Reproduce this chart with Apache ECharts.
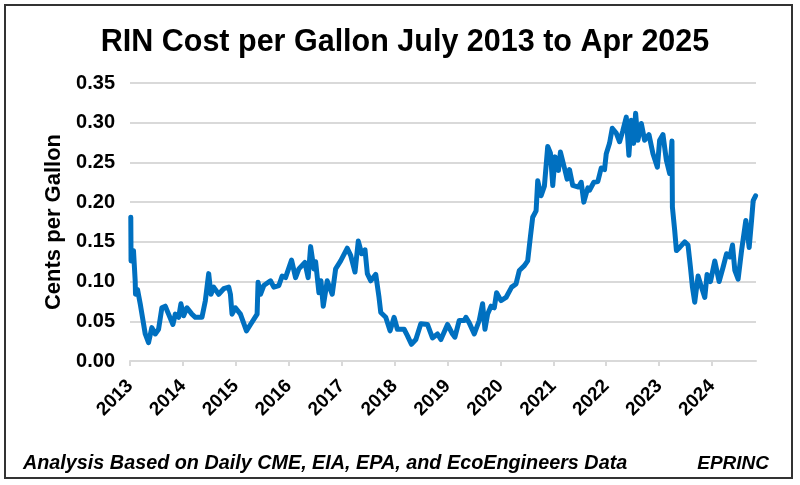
<!DOCTYPE html>
<html>
<head>
<meta charset="utf-8">
<script src="https://cdn.jsdelivr.net/npm/echarts@6/dist/echarts.min.js"></script>
<style>
html,body{margin:0;padding:0;background:#fff;}
#chart{width:800px;height:485px;}
</style>
</head>
<body>
<div id="chart"></div>
<script>
// Decimal year of each observation
const dates = [
2013.015,2013.020,2013.066,2013.098,2013.104,2013.142,2013.193,2013.288,2013.350,2013.413,
2013.477,2013.540,2013.602,2013.667,2013.729,2013.811,2013.856,2013.919,2013.962,2014.013,
2014.076,2014.170,2014.235,2014.360,2014.424,2014.487,2014.530,2014.581,2014.676,2014.771,
2014.866,2014.898,2014.928,2014.992,2015.087,2015.201,2015.277,2015.402,2015.420,2015.466,
2015.528,2015.655,2015.718,2015.813,2015.875,2015.939,2016.053,2016.129,2016.191,2016.305,
2016.367,2016.413,2016.475,2016.508,2016.570,2016.608,2016.652,2016.727,2016.822,2016.886,
2016.981,2017.106,2017.170,2017.252,2017.314,2017.379,2017.441,2017.485,2017.549,2017.644,
2017.706,2017.739,2017.833,2017.915,2017.991,2018.053,2018.180,2018.242,2018.318,2018.402,
2018.496,2018.621,2018.716,2018.811,2018.875,2019.000,2019.095,2019.140,2019.222,2019.316,
2019.348,2019.411,2019.506,2019.600,2019.663,2019.708,2019.758,2019.822,2019.884,2019.928,
2020.011,2020.106,2020.212,2020.295,2020.358,2020.453,2020.515,2020.566,2020.610,2020.674,
2020.705,2020.769,2020.831,2020.894,2020.945,2020.989,2021.034,2021.097,2021.134,2021.210,
2021.261,2021.305,2021.367,2021.475,2021.527,2021.576,2021.652,2021.684,2021.765,2021.841,
2021.905,2021.968,2022.000,2022.062,2022.114,2022.189,2022.252,2022.314,2022.379,2022.428,
2022.473,2022.517,2022.555,2022.598,2022.663,2022.725,2022.807,2022.883,2022.966,2023.009,
2023.072,2023.136,2023.199,2023.242,2023.250,2023.294,2023.326,2023.388,2023.483,2023.545,
2023.591,2023.629,2023.672,2023.735,2023.799,2023.862,2023.905,2023.970,2024.051,2024.133,
2024.208,2024.273,2024.335,2024.386,2024.430,2024.492,2024.557,2024.638,2024.701,2024.746,
2024.777,2024.822
];
// RIN cost, dollars per gallon
const rinCost = [
0.181,0.126,0.139,0.101,0.084,0.090,0.072,0.034,0.023,0.042,
0.034,0.040,0.067,0.069,0.059,0.046,0.059,0.055,0.072,0.057,
0.067,0.059,0.055,0.055,0.076,0.110,0.084,0.093,0.084,0.091,
0.093,0.084,0.059,0.067,0.059,0.038,0.046,0.059,0.099,0.084,
0.095,0.101,0.093,0.095,0.107,0.105,0.127,0.105,0.116,0.124,
0.105,0.144,0.116,0.125,0.086,0.101,0.069,0.101,0.084,0.116,
0.126,0.142,0.133,0.112,0.151,0.135,0.140,0.110,0.101,0.109,
0.080,0.061,0.055,0.038,0.055,0.040,0.040,0.032,0.021,0.027,
0.047,0.046,0.029,0.034,0.027,0.046,0.034,0.030,0.051,0.051,
0.055,0.048,0.034,0.051,0.072,0.040,0.059,0.069,0.067,0.086,
0.076,0.080,0.093,0.097,0.114,0.120,0.126,0.156,0.181,0.189,
0.227,0.208,0.220,0.270,0.262,0.221,0.257,0.240,0.263,0.243,
0.229,0.241,0.221,0.219,0.225,0.200,0.218,0.215,0.225,0.226,
0.243,0.241,0.261,0.274,0.293,0.287,0.276,0.290,0.307,0.259,
0.303,0.274,0.312,0.278,0.299,0.278,0.285,0.261,0.244,0.278,
0.285,0.253,0.236,0.277,0.194,0.164,0.139,0.143,0.150,0.146,
0.118,0.093,0.074,0.107,0.093,0.080,0.109,0.100,0.126,0.100,
0.118,0.135,0.131,0.146,0.114,0.103,0.139,0.177,0.143,0.177,
0.202,0.208
];
const yearTicks = [2013,2014,2015,2016,2017,2018,2019,2020,2021,2022,2023,2024];

const chart = echarts.init(document.getElementById('chart'), null, {renderer:'canvas'});
const FONT = 'Liberation Sans, Arial, sans-serif';
chart.setOption({
  animation:false,
  backgroundColor:'#fff',
  title:[
    {text:'RIN Cost per Gallon July 2013 to Apr 2025',left:400,top:22,textAlign:'center',
     textStyle:{fontFamily:FONT,fontSize:30.5,fontWeight:'bold',color:'#000'}},
    {text:'Analysis Based on Daily CME, EIA, EPA, and EcoEngineers Data',left:18,top:449,
     textStyle:{fontFamily:FONT,fontSize:19.8,fontWeight:'bold',fontStyle:'italic',color:'#000'}},
    {text:'EPRINC',right:26,top:449,
     textStyle:{fontFamily:FONT,fontSize:19,fontWeight:'bold',fontStyle:'italic',color:'#000'}}
  ],
  graphic:[{type:'rect',shape:{x:5,y:5,width:787,height:473},
    style:{fill:'none',stroke:'#333',lineWidth:2},silent:true}],
  grid:{left:130,right:44,top:83,bottom:124},
  xAxis:{
    type:'value',min:2013,max:2024.83,interval:1,
    axisLine:{lineStyle:{color:'#d9d9d9',width:2}},
    axisTick:{show:true,length:5,lineStyle:{color:'#d9d9d9',width:2},customValues:yearTicks},
    axisLabel:{rotate:45,margin:22,customValues:yearTicks,fontFamily:FONT,fontSize:19,fontWeight:'bold',color:'#000',
      formatter:v=>Number.isInteger(v)?String(v):''},
    splitLine:{show:false}
  },
  yAxis:{
    type:'value',min:0,max:0.35,interval:0.05,
    name:'Cents per Gallon',nameLocation:'middle',nameGap:58,
    nameTextStyle:{fontFamily:FONT,fontSize:22,fontWeight:'bold',color:'#000'},
    axisLine:{show:false},axisTick:{show:false},
    axisLabel:{margin:15,fontFamily:FONT,fontSize:20,fontWeight:'bold',color:'#000',formatter:v=>v.toFixed(2)},
    splitLine:{lineStyle:{color:'#d9d9d9',width:2}}
  },
  series:[{
    type:'line',data:dates.map((d,i)=>[d,rinCost[i]]),showSymbol:false,
    lineStyle:{color:'#0070C0',width:5,join:'round',cap:'round'},
    itemStyle:{color:'#0070C0'}
  }]
});
</script>
</body>
</html>
